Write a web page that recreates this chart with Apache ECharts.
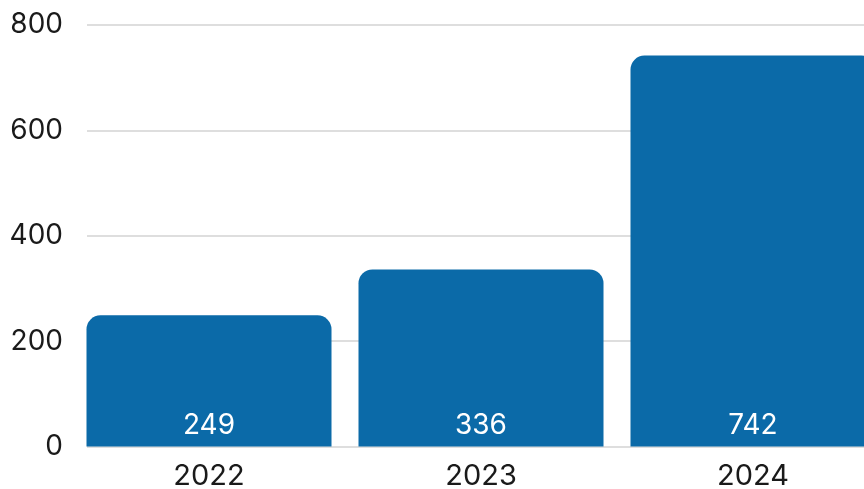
<!DOCTYPE html>
<html>
<head>
<meta charset="utf-8">
<style>html,body{margin:0;padding:0;background:#fff;}#c{width:864px;height:489px;}</style>
<script src="https://cdn.jsdelivr.net/npm/echarts@6/dist/echarts.min.js"></script>
</head>
<body>
<div id="c"></div>
<script>
const categories = ['2022', '2023', '2024'];
const values = [249, 336, 742];
const yTicks = [0, 200, 400, 600, 800];

const FONT = 'Inter';
const chart = echarts.init(document.getElementById('c'), null, {renderer: 'canvas'});
const yMin = yTicks[0], yMax = yTicks[yTicks.length - 1], yStep = yTicks[1] - yTicks[0];
chart.setOption({
  animation: false,
  backgroundColor: '#ffffff',
  grid: [
    {left: 73, width: 816, top: 25, bottom: 42.5, outerBoundsMode: 'none', containLabel: false},
    {left: 87, right: 0, top: 25, bottom: 42.5, outerBoundsMode: 'none', containLabel: false}
  ],
  xAxis: [
    {
      type: 'category', gridIndex: 0, data: categories,
      axisLine: {show: false}, axisTick: {show: false},
      axisLabel: {color: '#1a1a1a', fontFamily: FONT, fontSize: 29, margin: 15}
    },
    {type: 'category', gridIndex: 1, data: categories, show: false}
  ],
  yAxis: [
    {type: 'value', gridIndex: 0, min: yMin, max: yMax, interval: yStep, show: false, splitLine: {show: false}},
    {
      type: 'value', gridIndex: 1, min: yMin, max: yMax, interval: yStep,
      axisLine: {show: false}, axisTick: {show: false},
      axisLabel: {color: '#1a1a1a', fontFamily: FONT, fontSize: 28, margin: 24},
      splitLine: {lineStyle: {color: '#dedede', width: 2}}
    }
  ],
  series: [{
    type: 'bar', xAxisIndex: 0, yAxisIndex: 0, data: values, barWidth: 245, z: 3,
    itemStyle: {color: '#0b6aa8', borderRadius: [14, 14, 0, 0]},
    label: {show: true, position: 'insideBottom', distance: 7, color: '#ffffff', fontFamily: FONT, fontSize: 28}
  }]
});
</script>
</body>
</html>
